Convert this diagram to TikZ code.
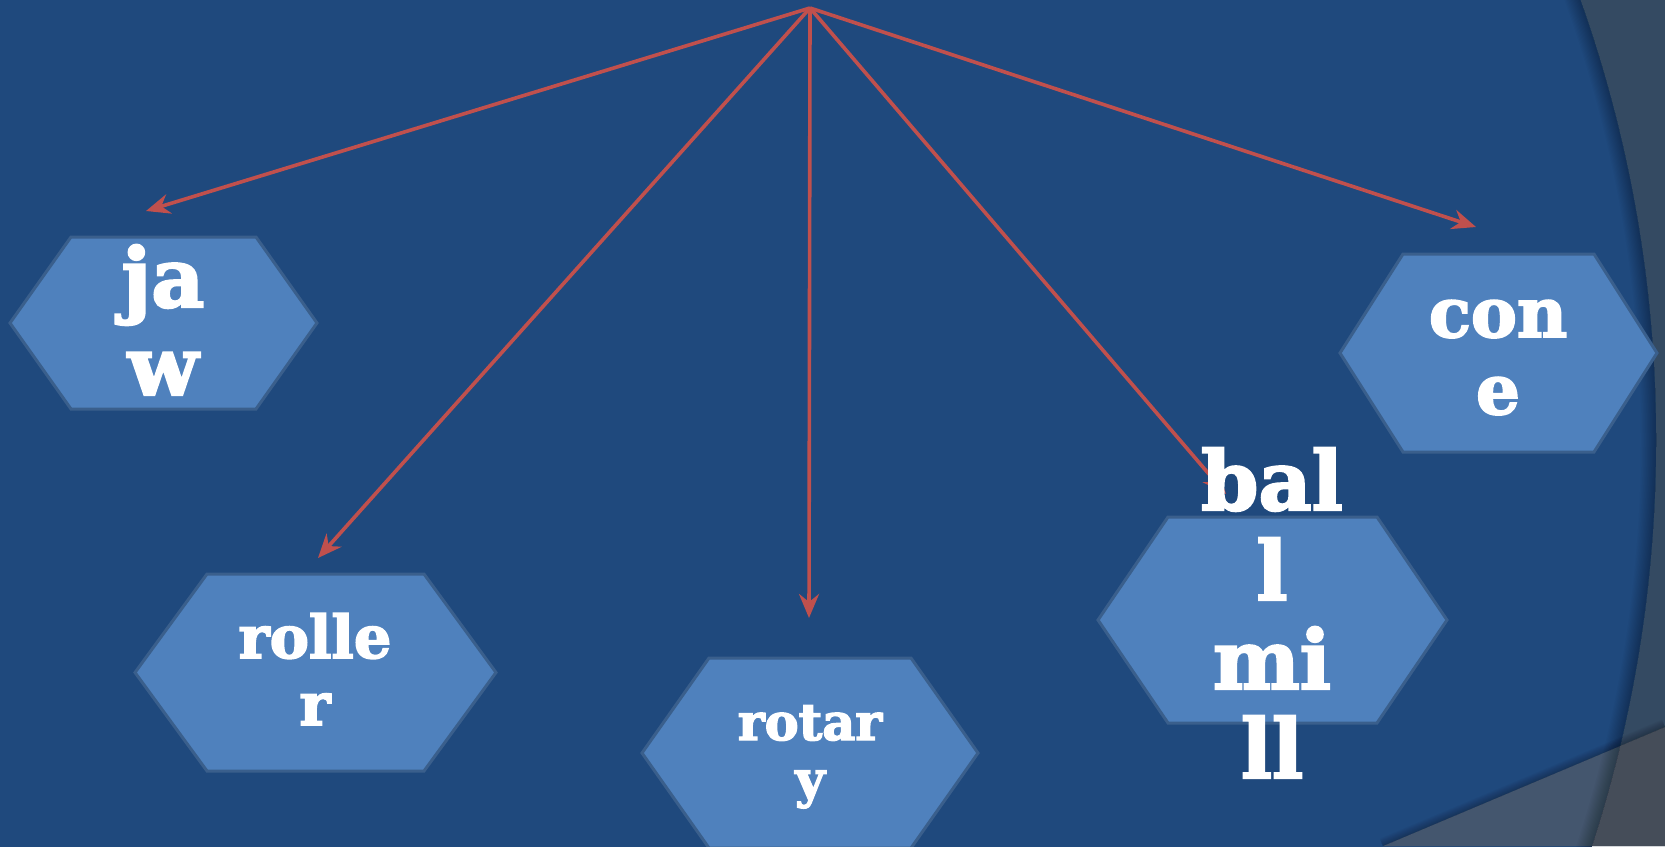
\documentclass[tikz,border=0pt]{standalone}
\usepackage{fontspec}
\setmainfont{DejaVu Serif}
\newfontfamily\heavyserif{DejaVu Serif}[BoldFeatures={FakeBold=2.8}]
\usetikzlibrary{arrows.meta}
\definecolor{bg}{HTML}{1F497D}
\definecolor{outgray}{HTML}{344A62}
\definecolor{bandin}{HTML}{44566E}
\definecolor{bandout}{HTML}{454D59}
\definecolor{hexfill}{HTML}{4F81BD}
\definecolor{hexline}{HTML}{3A5F8C}
\definecolor{arrowred}{HTML}{C0504D}
\tikzset{
  hexbox/.style={fill=hexfill, draw=hexline, line width=3pt, line join=miter},
  conn/.style={draw=arrowred, line width=3.6pt, -{Stealth[length=24pt, width=20pt, inset=8pt]}},
  lbl/.style={text=white, anchor=base, inner sep=0pt},
}
\newcommand{\hexagon}[5]{% left, right, top, bottom, inset
  \path[hexbox] (#1,{(#3+#4)/2}) -- (#1+#5,#3) -- (#2-#5,#3) -- (#2,{(#3+#4)/2}) -- (#2-#5,#4) -- (#1+#5,#4) -- cycle;}
\newcommand{\lblfont}[2]{\heavyserif\bfseries\fontsize{#1}{#2}\selectfont}
\begin{document}
\begin{tikzpicture}[x=1pt,y=-1pt]
\useasboundingbox (0,0) rectangle (1665,846);
\clip (0,0) rectangle (1665,846);
% background
\fill[outgray] (0,0) rectangle (1665,846);
\fill[bg] (344,440) circle (1312);
\fill[bandin] (1383,846) -- (1665,727) -- (1665,846) -- cycle;
\begin{scope}[even odd rule]
  \clip (0,0) rectangle (1665,846) (344,440) circle (1312);
  \fill[bandout] (1383,846) -- (1665,727) -- (1665,846) -- cycle;
\end{scope}
% shadow above the diagonal
\begin{scope}
  \clip (1383,846) -- (1665,727) -- (1665,0) -- (1300,0) -- (1300,846) -- cycle;
  \foreach \i in {1,...,8} \draw[black, opacity=0.03, line width=2*\i pt] (1383,846) -- (1665,727);
\end{scope}
% shadow inside the circle edge
\begin{scope}
  \clip (344,440) circle (1312);
  \foreach \i in {1,...,12} \draw[black, opacity=0.022, line width=2.5*\i pt] (344,440) circle (1312);
\end{scope}
% hexagons
\hexagon{10}{317}{237}{409}{61}
\hexagon{1340}{1657}{254}{452}{63}
\hexagon{135}{496}{574}{771}{72}
\hexagon{642}{978}{658}{848}{67}
\hexagon{1098}{1447}{517}{723}{70}
% connectors
\coordinate (apex) at (810,8);
\coordinate (tjaw) at (146,211);
\coordinate (tcone) at (1476,227);
\coordinate (troller) at (318,558);
\coordinate (trotary) at (809,618);
\coordinate (tball) at (1226,494);
\draw[conn] (apex) -- (tjaw);
\draw[conn] (apex) -- (troller);
\draw[conn] (apex) -- (trotary);
\draw[conn] (apex) -- (tball);
\draw[conn] (apex) -- (tcone);
% labels
\node[lbl, font=\lblfont{82}{88}] (jaw1) at (163,307) {ja};
\node[lbl, font=\lblfont{82}{88}] (jaw2) at (163,395) {w};
\node[lbl, font=\lblfont{69}{76}] (cone1) at (1498,337) {con};
\node[lbl, font=\lblfont{69}{76}] (cone2) at (1498,414) {e};
\node[lbl, font=\lblfont{59}{66}] (roller1) at (315,658) {rolle};
\node[lbl, font=\lblfont{59}{66}] (roller2) at (315,725) {r};
\node[lbl, font=\lblfont{51}{57}] (rotary1) at (810,740) {rotar};
\node[lbl, font=\lblfont{51}{57}] (rotary2) at (810,797) {y};
\node[lbl, font=\lblfont{82}{88}] (ball1) at (1272,510) {bal};
\node[lbl, font=\lblfont{82}{88}] (ball2) at (1272,600) {l};
\node[lbl, font=\lblfont{82}{88}] (ball3) at (1272,689) {mi};
\node[lbl, font=\lblfont{82}{88}] (ball4) at (1272,778) {ll};
\end{tikzpicture}
\end{document}
